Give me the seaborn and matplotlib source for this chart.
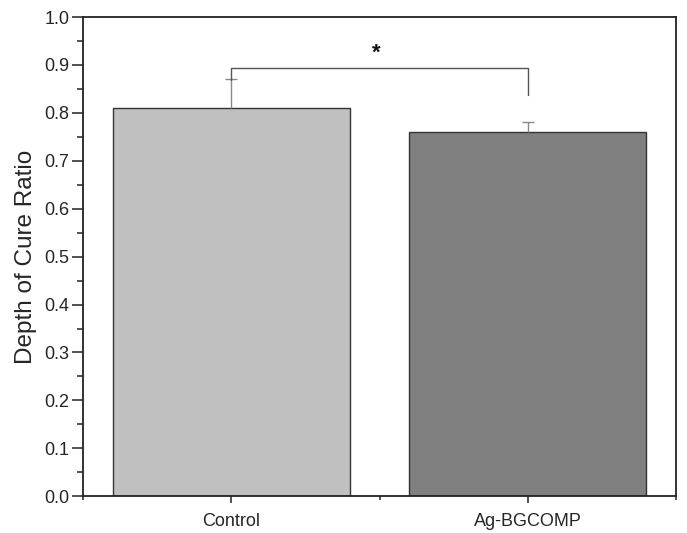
import matplotlib
matplotlib.use("Agg")
import matplotlib.pyplot as plt
import seaborn as sns
import pandas as pd
from matplotlib.ticker import MultipleLocator

sns.set_style("ticks")
plt.rcParams['font.family'] = ['Liberation Sans', 'DejaVu Sans']

# values
groups = ["Control", "Ag-BGCOMP"]
ratio = [0.81, 0.76]
ratio_err = [0.06, 0.02]
bar_colors = ["#c0c0c0", "#808080"]
star_label = "*"
bracket_top = 0.894
bracket_left_end = 0.868
bracket_right_end = 0.838

df = pd.DataFrame({"group": groups, "ratio": ratio})

fig = plt.figure(figsize=(6.87, 5.33), dpi=100)
ax = fig.add_axes([0.121, 0.069, 0.863, 0.899])

sns.barplot(data=df, x="group", y="ratio", hue="group", palette=bar_colors,
            legend=False, errorbar=None, width=0.8,
            edgecolor="#333333", linewidth=1.0, ax=ax)

# upper error bars only
_, caps, _ = ax.errorbar(x=range(len(groups)), y=ratio,
                         yerr=[[0] * len(groups), ratio_err],
                         fmt="none", ecolor="#8a8a8a", elinewidth=1.0,
                         capsize=4.5, capthick=1.0)
caps[0].set_visible(False)

# significance bracket
ax.plot([0, 0, 1, 1],
        [bracket_left_end, bracket_top, bracket_top, bracket_right_end],
        color="#555555", lw=1.0)
ax.text(0.49, bracket_top + 0.008, star_label, ha="center", va="bottom",
        fontsize=16, fontweight="bold", color="#111111")

ax.set_xlim(-0.5, 1.5)
ax.set_ylim(0, 1.0)
ax.yaxis.set_major_locator(MultipleLocator(0.1))
ax.yaxis.set_minor_locator(MultipleLocator(0.05))
ax.xaxis.set_minor_locator(MultipleLocator(0.5))
ax.set_yticks([i / 10 for i in range(11)])
ax.set_yticklabels([f"{i / 10:.1f}" for i in range(11)])

ax.set_xlabel("")
ax.set_ylabel("Depth of Cure Ratio", fontsize=17.5, labelpad=5)

ax.tick_params(axis="y", which="major", direction="out", length=8, width=1.1,
               labelsize=13, pad=2, color="#222222", right=False)
ax.tick_params(axis="y", which="minor", direction="out", length=4, width=1.1,
               color="#222222", right=False)
ax.tick_params(axis="x", which="major", direction="out", length=5, width=1.1,
               labelsize=13, pad=7, color="#222222", top=False)
ax.tick_params(axis="x", which="minor", direction="out", length=3, width=1.1,
               color="#222222", top=False)

for side in ["left", "right", "top", "bottom"]:
    ax.spines[side].set_visible(True)
    ax.spines[side].set_color("#222222")
    ax.spines[side].set_linewidth(1.3)

fig.savefig("out.png", dpi=100)
